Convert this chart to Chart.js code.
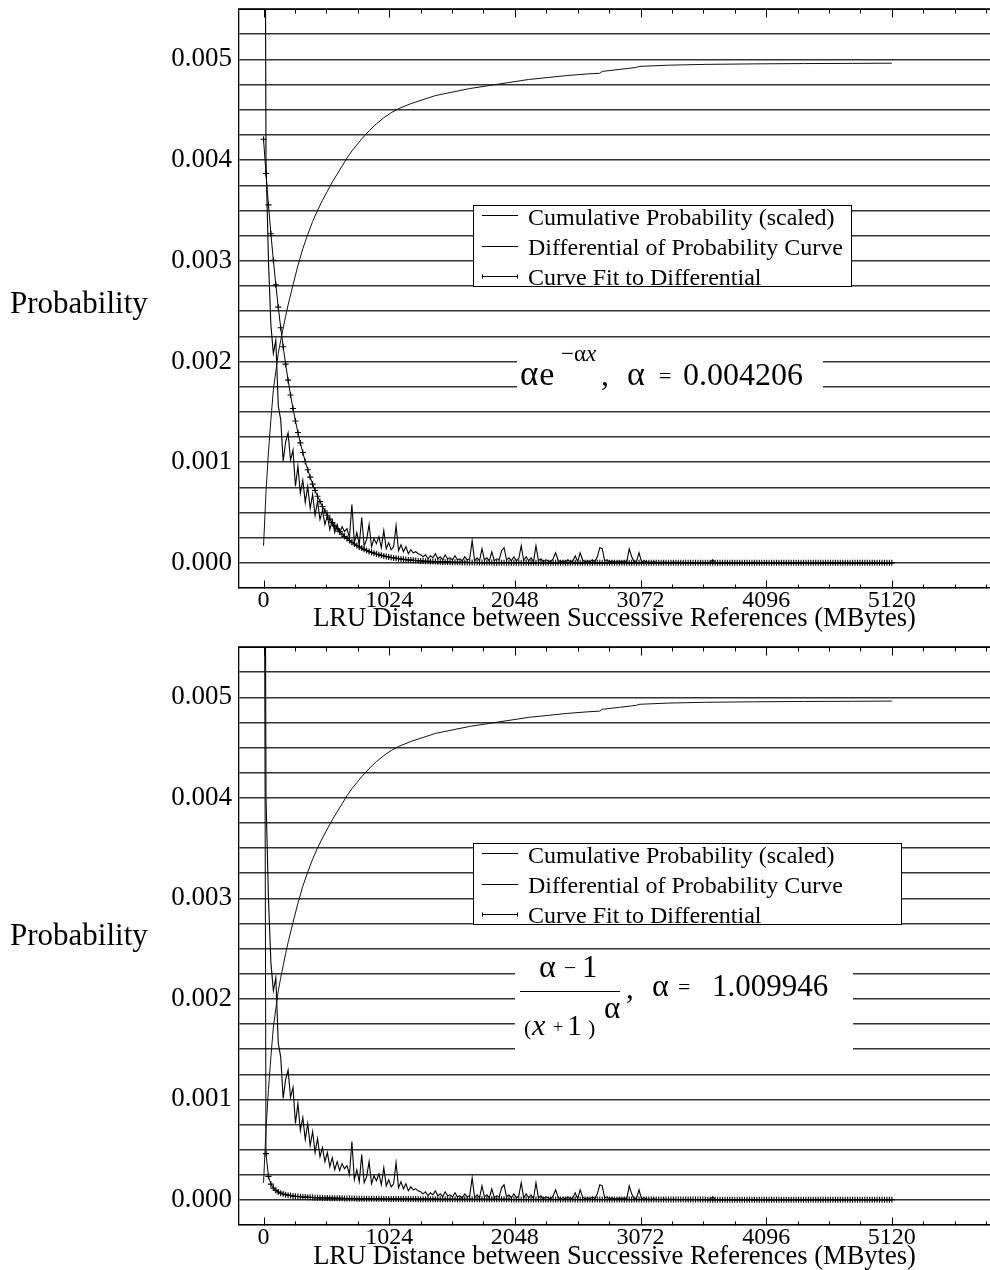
<!DOCTYPE html>
<html>
<head>
<meta charset="utf-8">
<title>LRU distance probability</title>
<script src="https://cdn.jsdelivr.net/npm/chart.js@4.4.1/dist/chart.umd.min.js"></script>
<style>
  body { margin: 0; background: #fff; }
  .panel { position: relative; width: 990px; height: 635px; }
</style>
</head>
<body>
<div class="panel"><canvas id="expChart"></canvas></div>
<div class="panel"><canvas id="powChart"></canvas></div>
<script>
const SERIF = "'Liberation Serif', 'Times New Roman', serif";

// probabilities are in millionths; the binned series are one value per 20 MB, 0..5120 MB
const BIN_MB = 20;

const differential = [
  12000, 4000, 3000, 2360, 2080, 2210, 1560, 1420, 1010, 1200,
  1290, 1020, 1120, 760, 960, 690, 820, 600, 760, 540,
  680, 470, 610, 430, 520, 380, 470, 330, 420, 300,
  380, 290, 360, 310, 340, 250, 580, 200, 300, 180,
  450, 170, 230, 380, 160, 240, 190, 260, 150, 320,
  140, 200, 130, 160, 370, 120, 180, 110, 160, 90,
  130, 100, 110, 90, 80, 60, 80, 40, 70, 50,
  90, 40, 60, 30, 80, 40, 50, 30, 70, 30,
  40, 20, 60, 30, 40, 220, 20, 50, 20, 140,
  30, 50, 20, 110, 20, 40, 30, 120, 150, 30,
  50, 20, 60, 20, 40, 170, 20, 60, 20, 50,
  10, 170, 20, 40, 10, 30, 20, 10, 40, 100,
  30, 10, 20, 10, 30, 10, 20, 70, 10, 100,
  30, 10, 20, 10, 30, 10, 60, 150, 140, 20,
  30, 10, 20, 10, 10, 20, 10, 20, 10, 140,
  60, 10, 20, 100, 10, 20, 10, 8, 3, 12,
  4, 6, 2, 10, 3, 5, 2, 7, 3, 4,
  2, 6, 3, 2, 5, 2, 3, 1, 4, 2,
  3, 1, 8, 30, 6, 2, 3, 1, 2, 4,
  1, 3, 2, 1, 4, 2, 1, 3, 1, 2,
  5, 1, 2, 1, 3, 1, 2, 1, 4, 1,
  2, 1, 3, 1, 2, 1, 1, 3, 1, 2,
  1, 2, 1, 4, 1, 2, 1, 1, 2, 1,
  3, 1, 1, 2, 1, 1, 2, 1, 1, 3,
  1, 1, 2, 1, 1, 1, 2, 1, 1, 2,
  1, 1, 1, 2, 1, 1, 1
];

const fitExp = [
  4206, 3867, 3555, 3268, 3004, 2762, 2539, 2334, 2146, 1973,
  1814, 1667, 1533, 1409, 1295, 1191, 1095, 1006, 925, 851,
  782, 719, 661, 608, 559, 514, 472, 434, 399, 367,
  337, 310, 285, 262, 241, 222, 204, 187, 172, 158,
  146, 134, 123, 113, 104, 96, 88, 81, 74, 68,
  63, 58, 53, 49, 45, 41, 38, 35, 32, 29,
  27, 25, 23, 21, 19, 18, 16, 15, 14, 13,
  12, 11, 10, 9, 8, 8, 7, 6, 6, 5,
  5, 4, 4, 4, 3, 3, 3, 3, 2, 2,
  2, 2, 2, 2, 1, 1, 1, 1, 1, 1,
  1, 1, 1, 1, 1, 1, 1, 1, 0, 0,
  0, 0, 0, 0, 0, 0, 0, 0, 0, 0,
  0, 0, 0, 0, 0, 0, 0, 0, 0, 0,
  0, 0, 0, 0, 0, 0, 0, 0, 0, 0,
  0, 0, 0, 0, 0, 0, 0, 0, 0, 0,
  0, 0, 0, 0, 0, 0, 0, 0, 0, 0,
  0, 0, 0, 0, 0, 0, 0, 0, 0, 0,
  0, 0, 0, 0, 0, 0, 0, 0, 0, 0,
  0, 0, 0, 0, 0, 0, 0, 0, 0, 0,
  0, 0, 0, 0, 0, 0, 0, 0, 0, 0,
  0, 0, 0, 0, 0, 0, 0, 0, 0, 0,
  0, 0, 0, 0, 0, 0, 0, 0, 0, 0,
  0, 0, 0, 0, 0, 0, 0, 0, 0, 0,
  0, 0, 0, 0, 0, 0, 0, 0, 0, 0,
  0, 0, 0, 0, 0, 0, 0, 0, 0, 0,
  0, 0, 0, 0, 0, 0, 0
];

const fitPow = [
  9946, 460, 234, 157, 117, 94, 78, 67, 59, 52,
  47, 43, 39, 36, 33, 31, 29, 28, 26, 25,
  23, 22, 21, 20, 19, 19, 18, 17, 17, 16,
  16, 15, 15, 14, 14, 13, 13, 13, 12, 12,
  12, 11, 11, 11, 11, 10, 10, 10, 10, 10,
  9, 9, 9, 9, 9, 9, 8, 8, 8, 8,
  8, 8, 8, 7, 7, 7, 7, 7, 7, 7,
  7, 6, 6, 6, 6, 6, 6, 6, 6, 6,
  6, 6, 5, 5, 5, 5, 5, 5, 5, 5,
  5, 5, 5, 5, 5, 5, 5, 5, 5, 5,
  5, 4, 4, 4, 4, 4, 4, 4, 4, 4,
  4, 4, 4, 4, 4, 4, 4, 4, 4, 4,
  4, 4, 4, 4, 4, 4, 4, 4, 4, 3,
  3, 3, 3, 3, 3, 3, 3, 3, 3, 3,
  3, 3, 3, 3, 3, 3, 3, 3, 3, 3,
  3, 3, 3, 3, 3, 3, 3, 3, 3, 3,
  3, 3, 3, 3, 3, 3, 3, 3, 3, 3,
  3, 3, 3, 3, 3, 3, 3, 3, 3, 3,
  3, 2, 2, 2, 2, 2, 2, 2, 2, 2,
  2, 2, 2, 2, 2, 2, 2, 2, 2, 2,
  2, 2, 2, 2, 2, 2, 2, 2, 2, 2,
  2, 2, 2, 2, 2, 2, 2, 2, 2, 2,
  2, 2, 2, 2, 2, 2, 2, 2, 2, 2,
  2, 2, 2, 2, 2, 2, 2, 2, 2, 2,
  2, 2, 2, 2, 2, 2, 2, 2, 2, 2,
  2, 2, 2, 2, 2, 2, 2
];

// cumulative curve (scaled), sampled where it bends
const cumMB = [0, 20, 40, 60, 80, 100, 120, 140, 160, 180, 200, 240, 280, 320, 360, 400, 440, 480, 520, 560,
  600, 640, 680, 720, 760, 800, 860, 920, 980, 1040, 1100, 1200, 1300, 1400, 1520, 1680, 1840, 2000, 2160, 2320,
  2480, 2640, 2740, 2760, 2900, 3040, 3060, 3300, 3600, 4000, 4400, 4800, 5120];
const cumulative = [170, 700, 1100, 1420, 1720, 1900, 2080, 2210, 2330, 2450, 2560, 2760, 2950, 3120, 3260, 3390, 3500, 3600, 3690, 3780,
  3860, 3940, 4020, 4090, 4150, 4210, 4290, 4360, 4420, 4470, 4510, 4560, 4600, 4640, 4670, 4710, 4740, 4770, 4800, 4820,
  4840, 4855, 4862, 4880, 4900, 4920, 4930, 4942, 4950, 4955, 4958, 4960, 4962];

const xTickLabels = [0, 1024, 2048, 3072, 4096, 5120];
const seriesNames = [
  "Cumulative Probability (scaled)",
  "Differential of Probability Curve",
  "Curve Fit to Differential"
];

function txt(ctx, s, x, y, size, italic, align) {
  ctx.font = (italic ? "italic " : "") + size + "px " + SERIF;
  ctx.textAlign = align || "left";
  ctx.textBaseline = "alphabetic";
  ctx.fillText(s, x, y);
  return x + ctx.measureText(s).width;
}

function hline(ctx, x1, x2, y) {
  ctx.beginPath();
  ctx.moveTo(x1, y);
  ctx.lineTo(x2, y);
  ctx.stroke();
}

function vline(ctx, x, y1, y2) {
  ctx.beginPath();
  ctx.moveTo(x, y1);
  ctx.lineTo(x, y2);
  ctx.stroke();
}

function drawExpFormula(ctx) {
  ctx.fillStyle = "#fff";
  ctx.fillRect(517, 342, 306, 56);
  ctx.fillStyle = "#000";
  const a = txt(ctx, "\u03b1", 520, 385, 35);
  txt(ctx, "e", a + 1, 385, 34);
  const end = txt(ctx, "\u2212\u03b1", 561, 361, 23);
  txt(ctx, "x", end, 361, 23, true);
  txt(ctx, ",", 601, 385, 32);
  txt(ctx, "\u03b1", 627, 385, 34);
  txt(ctx, "=", 659, 383, 22);
  txt(ctx, "0.004206", 683, 385, 32);
}

function drawPowFormula(ctx) {
  ctx.fillStyle = "#fff";
  ctx.fillRect(515, 322, 338, 110);
  ctx.fillStyle = "#000";
  // numerator
  txt(ctx, "\u03b1", 539, 342, 32);
  txt(ctx, "\u2013", 565, 338, 20);
  txt(ctx, "1", 582, 342, 31);
  ctx.strokeStyle = "#000";
  ctx.lineWidth = 1;
  hline(ctx, 520, 620, 356.5);
  // denominator
  txt(ctx, "(", 524, 400, 22);
  txt(ctx, "x", 532, 400, 30, true);
  txt(ctx, "+", 553, 398, 18);
  txt(ctx, "1", 567, 400, 30);
  txt(ctx, ")", 588, 400, 22);
  txt(ctx, "\u03b1", 604, 383, 31);
  txt(ctx, ",", 626, 363, 31);
  txt(ctx, "\u03b1", 652, 361, 32);
  txt(ctx, "=", 678, 359, 22);
  txt(ctx, "1.009946", 712, 361, 31);
}

const decorations = {
  id: "decorations",
  afterDraw(chart, args, opts) {
    const { ctx, chartArea: a } = chart;
    const x = chart.scales.x;
    ctx.save();
    ctx.strokeStyle = "#000";
    ctx.fillStyle = "#000";
    ctx.lineWidth = 1;

    // closing top frame line
    const top = Math.round(a.top) + 0.5;
    hline(ctx, a.left, a.right, top);

    // inward tick marks every 256 MB, longer on the labelled ones
    const bottom = Math.round(a.bottom) + 0.5;
    for (let v = 0; v <= x.max; v += 256) {
      const px = Math.round(x.getPixelForValue(v)) + 0.5;
      const len = v % 1024 === 0 ? 8 : 4;
      vline(ctx, px, bottom, bottom - len);
      vline(ctx, px, top, top + len);
    }

    // horizontal y-axis title
    txt(ctx, "Probability", 10, opts.probY, 31);

    // legend box
    const lx = 473.5;
    const ly = Math.round(a.top + 196) + 0.5;
    ctx.fillStyle = "#fff";
    ctx.fillRect(lx, ly, opts.legendWidth, 81);
    ctx.strokeRect(lx, ly, opts.legendWidth, 81);
    ctx.fillStyle = "#000";
    const lineOff = [9.5, 40, 70.5];
    const textOff = [19, 49, 79.5];
    chart.data.datasets.forEach((ds, i) => {
      const y = Math.round(ly + lineOff[i]) + 0.5;
      hline(ctx, 482, 518, y);
      if (ds.pointStyle === "cross") {
        vline(ctx, 482.5, y - 2, y + 2);
        vline(ctx, 517.5, y - 2, y + 2);
      }
      txt(ctx, ds.label, 528, ly + textOff[i], 24);
    });

    if (opts.formula === "exp") drawExpFormula(ctx);
    else drawPowFormula(ctx);
    ctx.restore();
  }
};

function makeChart(id, fitValues, cfg) {
  const binned = (arr) => arr.map((v, i) => ({ x: i * BIN_MB, y: v }));
  return new Chart(document.getElementById(id), {
    type: "line",
    data: {
      datasets: [
        {
          label: seriesNames[0],
          data: cumMB.map((m, i) => ({ x: m, y: cumulative[i] })),
          borderColor: "#111",
          borderWidth: 1,
          pointRadius: 0
        },
        {
          label: seriesNames[1],
          data: binned(differential),
          borderColor: "#000",
          borderWidth: 1.1,
          pointRadius: 0
        },
        {
          label: seriesNames[2],
          data: binned(fitValues),
          borderColor: "#000",
          borderWidth: 1,
          pointStyle: "cross",
          pointRadius: 3,
          pointBorderWidth: 1.1,
          pointBorderColor: "#000"
        }
      ]
    },
    options: {
      responsive: true,
      maintainAspectRatio: false,
      animation: false,
      events: [],
      layout: { autoPadding: false, padding: { top: cfg.padTop, left: 0, right: 0, bottom: 0 } },
      scales: {
        x: {
          type: "linear",
          min: -200,
          max: 5920,
          afterFit: (s) => {
            s.height = cfg.axisH;
            s.paddingLeft = 0;
            s.paddingRight = 0;
          },
          afterBuildTicks: (s) => { s.ticks = xTickLabels.map((v) => ({ value: v })); },
          grid: { display: false, drawTicks: false },
          border: { display: true, color: "#000", width: 1.3 },
          ticks: {
            autoSkip: false,
            maxRotation: 0,
            padding: 1,
            color: "#000",
            font: { family: SERIF, size: 24, lineHeight: 1 },
            callback: (v) => String(v)
          },
          title: {
            display: true,
            text: "LRU Distance between Successive References (MBytes)",
            color: "#000",
            padding: { top: 0, bottom: cfg.titlePad },
            font: { family: SERIF, size: 26.5 }
          }
        },
        y: {
          min: -250,
          max: 5500,
          afterFit: (s) => {
            s.width = 239;
            s.paddingTop = 0;
            s.paddingBottom = 0;
          },
          grid: { color: "#333", lineWidth: 1.4, drawTicks: false },
          border: { display: true, color: "#000", width: 1.3 },
          ticks: {
            stepSize: 250,
            autoSkip: false,
            padding: 7,
            color: "#000",
            font: { family: SERIF, size: 27 },
            callback: (v) => (v >= 0 && v % 1000 === 0 ? (v / 1e6).toFixed(3) : "")
          }
        }
      },
      plugins: {
        legend: { display: false },
        tooltip: { enabled: false },
        decorations: cfg.deco
      }
    },
    plugins: [decorations]
  });
}

makeChart("expChart", fitExp, {
  padTop: 9,
  axisH: 47,
  titlePad: 0,
  deco: { probY: 313, legendWidth: 378, formula: "exp" }
});

makeChart("powChart", fitPow, {
  padTop: 12,
  axisH: 45,
  titlePad: -3,
  deco: { probY: 310, legendWidth: 428, formula: "pow" }
});
</script>
</body>
</html>
